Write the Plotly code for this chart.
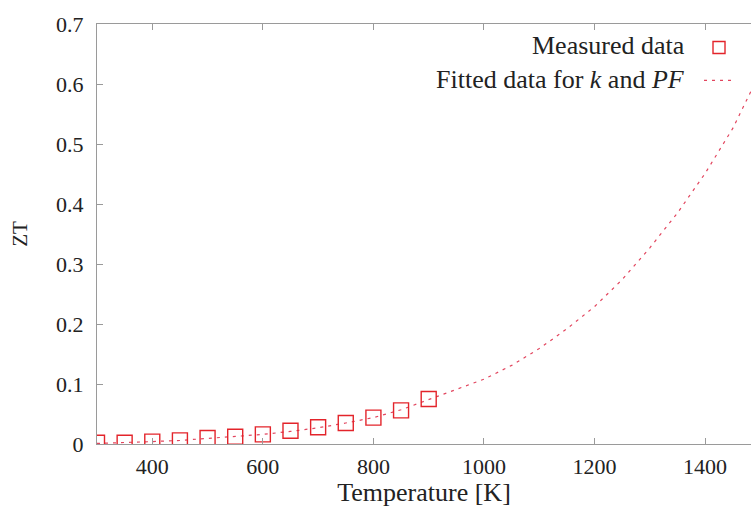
import plotly.graph_objects as go

# Measured data
meas_T = [300, 350, 400, 450, 500, 550, 600, 650, 700, 750, 800, 850, 900]
meas_ZT = [0.002, 0.002, 0.004, 0.006, 0.010, 0.012, 0.016, 0.022, 0.028, 0.035, 0.044, 0.056, 0.075]

# Fitted curve
fit_T = [300, 350, 400, 450, 500, 550, 600, 650, 700, 750, 800, 850, 900, 950,
         1000, 1050, 1100, 1150, 1200, 1250, 1300, 1350, 1400, 1450, 1500]
fit_ZT = [0.001, 0.002, 0.004, 0.006, 0.009, 0.012, 0.016, 0.021, 0.027, 0.035,
          0.044, 0.057, 0.074, 0.091, 0.108, 0.131, 0.159, 0.192, 0.229, 0.274,
          0.327, 0.385, 0.451, 0.526, 0.620]

x_ticks = [400, 600, 800, 1000, 1200, 1400]
y_ticks = [0, 0.1, 0.2, 0.3, 0.4, 0.5, 0.6, 0.7]
y_tick_text = ["0", "0.1", "0.2", "0.3", "0.4", "0.5", "0.6", "0.7"]

name_meas = "Measured data"
name_fit = "Fitted data for <i>k</i> and <i>PF</i>"

SQ_COLOR = "#e3242b"
LINE_COLOR = "#e2455e"
AX_COLOR = "#9a9a9a"
FONT = "Liberation Serif, Times New Roman, serif"
TXT = "#222222"

fig = go.Figure()
fig.add_trace(go.Scatter(
    x=fit_T, y=fit_ZT, mode="lines", name="Fitted data for k and PF",
    line=dict(color=LINE_COLOR, width=1.2, dash="3px,5px"),
    showlegend=False,
))
fig.add_trace(go.Scatter(
    x=meas_T, y=meas_ZT, mode="markers", name=name_meas,
    marker=dict(symbol="square-open", size=15, color=SQ_COLOR, line=dict(width=1.4, color=SQ_COLOR)),
    showlegend=False,
))
# legend keys (text drawn as right-aligned annotations, as in the original)
fig.add_trace(go.Scatter(
    x=[None], y=[None], mode="markers", name=" ",
    marker=dict(symbol="square-open", size=12, color=SQ_COLOR, line=dict(width=1.4, color=SQ_COLOR)),
    showlegend=True,
))
fig.add_trace(go.Scatter(
    x=[None], y=[None], mode="lines", name=" ",
    line=dict(color=LINE_COLOR, width=1.2, dash="3px,5px"),
    showlegend=True,
))

fig.update_layout(
    width=751, height=508,
    margin=dict(l=97, r=0, t=24, b=64),
    paper_bgcolor="white", plot_bgcolor="white",
    font=dict(family=FONT, color=TXT, size=22),
    legend=dict(
        x=0.9205, y=0.995, xanchor="left", yanchor="top",
        bgcolor="rgba(0,0,0,0)", font=dict(size=23, family=FONT),
        itemwidth=30, tracegroupgap=0,
    ),
    xaxis=dict(
        range=[300, 1483], tickvals=x_ticks,
        showgrid=False, zeroline=False,
        showline=True, linecolor=AX_COLOR, linewidth=1.2, mirror="ticks",
        ticks="inside", ticklen=6, tickcolor=AX_COLOR, tickwidth=1,
        tickfont=dict(size=22, family=FONT, color=TXT),
        ticklabelstandoff=2,
        title=dict(text="Temperature [K]", font=dict(size=26, family=FONT, color=TXT), standoff=2),
    ),
    yaxis=dict(
        range=[0, 0.7], tickvals=y_ticks, ticktext=y_tick_text,
        showgrid=False, zeroline=False,
        showline=True, linecolor=AX_COLOR, linewidth=1.2,
        ticks="inside", ticklen=6, tickcolor=AX_COLOR, tickwidth=1,
        tickfont=dict(size=22, family=FONT, color=TXT),
        ticklabelstandoff=8,
        title=dict(text="ZT", font=dict(size=21, family=FONT, color=TXT), standoff=22),
    ),
    annotations=[
        dict(text=name_meas, xref="paper", yref="paper", x=0.902, y=0.948,
             xanchor="right", yanchor="middle", showarrow=False,
             font=dict(size=26, family=FONT, color=TXT)),
        dict(text=name_fit, xref="paper", yref="paper", x=0.902, y=0.869,
             xanchor="right", yanchor="middle", showarrow=False,
             font=dict(size=26, family=FONT, color=TXT)),
    ],
)

# remove the browser's default 8px body margin so the figure fills the window exactly
fig.write_html(
    "out.html",
    config={"displayModeBar": False},
    post_script="document.body.style.margin='0';document.body.style.overflow='hidden';",
)
